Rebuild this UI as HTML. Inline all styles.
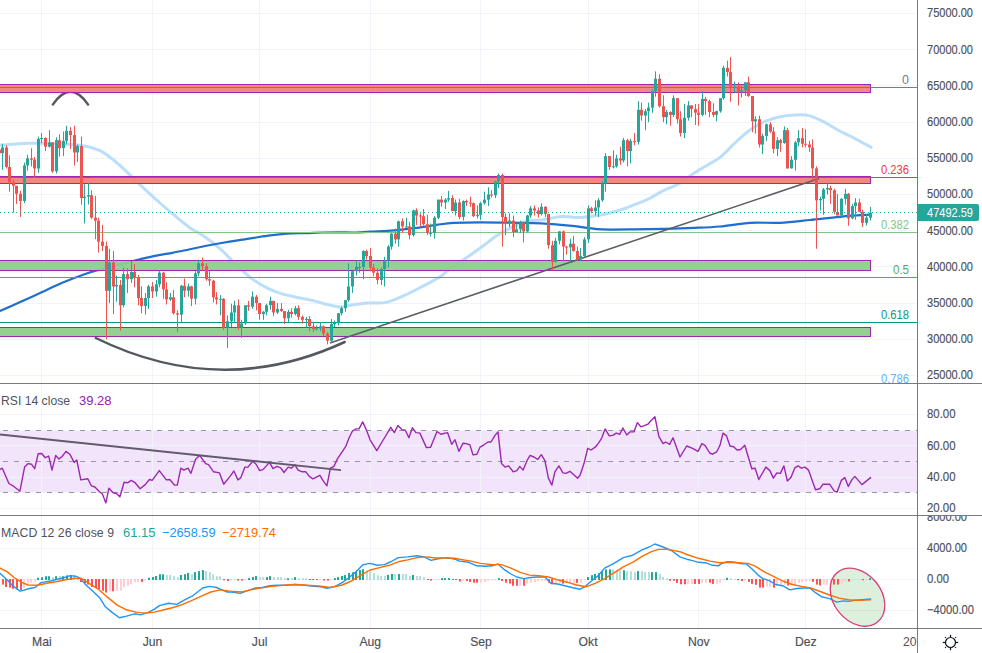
<!DOCTYPE html><html><head><meta charset="utf-8"><style>html,body{margin:0;padding:0;background:#fff;width:982px;height:653px;overflow:hidden;position:relative}</style></head><body><svg width="982" height="653" viewBox="0 0 982 653" style="position:absolute;left:0;top:0" font-family="&quot;Liberation Sans&quot;, sans-serif">
<rect width="982" height="653" fill="#ffffff"/>
<defs><clipPath id="cm"><rect x="0" y="0" width="917" height="383"/></clipPath><clipPath id="cr"><rect x="0" y="384" width="917" height="131"/></clipPath><clipPath id="cd"><rect x="0" y="516" width="917" height="112"/></clipPath><clipPath id="cda"><rect x="918" y="516" width="64" height="112"/></clipPath></defs>
<rect x="0" y="430.5" width="917" height="62" fill="#f2e5fb"/>
<rect x="41" y="0" width="1" height="628" fill="#f0f3fa"/><rect x="152" y="0" width="1" height="628" fill="#f0f3fa"/><rect x="259" y="0" width="1" height="628" fill="#f0f3fa"/><rect x="370" y="0" width="1" height="628" fill="#f0f3fa"/><rect x="480" y="0" width="1" height="628" fill="#f0f3fa"/><rect x="588" y="0" width="1" height="628" fill="#f0f3fa"/><rect x="698" y="0" width="1" height="628" fill="#f0f3fa"/><rect x="805" y="0" width="1" height="628" fill="#f0f3fa"/><rect x="0" y="13" width="917" height="1" fill="#f0f3fa"/><rect x="0" y="49" width="917" height="1" fill="#f0f3fa"/><rect x="0" y="85" width="917" height="1" fill="#f0f3fa"/><rect x="0" y="122" width="917" height="1" fill="#f0f3fa"/><rect x="0" y="158" width="917" height="1" fill="#f0f3fa"/><rect x="0" y="194" width="917" height="1" fill="#f0f3fa"/><rect x="0" y="230" width="917" height="1" fill="#f0f3fa"/><rect x="0" y="266" width="917" height="1" fill="#f0f3fa"/><rect x="0" y="303" width="917" height="1" fill="#f0f3fa"/><rect x="0" y="339" width="917" height="1" fill="#f0f3fa"/><rect x="0" y="375" width="917" height="1" fill="#f0f3fa"/><rect x="0" y="414" width="917" height="1" fill="#f0f3fa"/><rect x="0" y="445" width="917" height="1" fill="#f0f3fa"/><rect x="0" y="477" width="917" height="1" fill="#f0f3fa"/><rect x="0" y="508" width="917" height="1" fill="#f0f3fa"/><rect x="0" y="548" width="917" height="1" fill="#f0f3fa"/><rect x="0" y="579" width="917" height="1" fill="#f0f3fa"/><rect x="0" y="610" width="917" height="1" fill="#f0f3fa"/>
<g clip-path="url(#cm)">
<path d="M0.0,145.2 C4.6,144.9 18.4,143.6 27.6,143.3 C36.8,143.0 45.9,143.1 55.1,143.5 C64.3,143.9 75.0,144.4 82.7,145.7 C90.4,147.0 94.9,148.0 101.0,151.2 C107.1,154.4 113.0,159.5 119.4,165.0 C125.8,170.5 132.8,178.0 139.6,184.3 C146.4,190.6 154.1,197.7 160.0,203.0 C165.9,208.3 170.2,211.8 175.3,216.0 C180.4,220.2 185.5,224.6 190.6,228.2 C195.7,231.8 200.7,233.8 205.8,237.4 C210.9,241.0 216.0,245.0 221.1,249.6 C226.2,254.2 231.3,260.1 236.4,264.9 C241.5,269.7 246.6,274.8 251.7,278.6 C256.8,282.4 261.8,285.2 266.9,287.8 C272.0,290.4 277.1,292.3 282.2,293.9 C287.3,295.5 292.4,296.4 297.5,297.5 C302.6,298.6 307.7,299.4 312.8,300.6 C317.9,301.8 323.4,303.5 328.0,304.6 C332.6,305.7 336.7,306.9 340.3,307.0 C343.9,307.1 344.8,306.2 349.4,305.5 C354.0,304.8 361.7,303.5 367.8,303.0 C373.9,302.5 380.0,303.7 386.1,302.4 C392.2,301.1 398.3,298.1 404.4,295.4 C410.5,292.7 416.7,289.4 422.8,286.2 C428.9,283.0 436.6,279.1 441.1,276.2 C445.6,273.2 446.0,271.4 450.0,268.5 C454.0,265.6 460.2,261.9 465.3,258.5 C470.4,255.1 475.5,251.5 480.6,247.8 C485.7,244.1 491.4,239.2 495.8,236.2 C500.2,233.2 501.9,232.2 506.8,229.8 C511.7,227.4 518.9,223.3 525.0,221.6 C531.1,219.9 537.4,220.5 543.5,219.7 C549.6,218.8 555.8,216.9 561.9,216.5 C568.0,216.1 573.6,217.7 580.3,217.4 C587.0,217.1 595.7,215.8 602.0,214.7 C608.3,213.6 612.8,212.4 618.0,210.8 C623.2,209.2 628.2,207.2 633.3,205.2 C638.4,203.2 643.5,201.4 648.6,198.9 C653.7,196.4 658.8,192.9 663.9,190.3 C669.0,187.8 674.0,186.5 679.1,183.6 C684.2,180.7 690.1,175.8 694.4,173.0 C698.7,170.2 700.7,169.1 705.0,166.5 C709.3,163.9 715.0,161.3 720.0,157.4 C725.0,153.5 730.0,147.5 735.0,142.9 C740.0,138.3 745.0,133.6 750.0,130.0 C755.0,126.4 760.0,123.6 765.0,121.4 C770.0,119.2 775.0,117.8 780.0,116.7 C785.0,115.6 790.3,115.2 795.0,115.0 C799.7,114.8 803.4,114.3 808.0,115.4 C812.6,116.5 817.9,119.0 822.9,121.4 C827.9,123.8 832.9,127.3 837.9,130.0 C842.9,132.7 847.4,134.6 852.9,137.5 C858.4,140.4 868.1,145.6 871.1,147.2" fill="none" stroke="#bbdefb" stroke-width="3" stroke-linecap="round" />
<path d="M0.0,311.0 C3.5,309.5 13.9,304.9 20.8,301.8 C27.7,298.7 34.7,295.5 41.6,292.3 C48.5,289.1 55.4,285.7 62.3,282.8 C69.2,279.9 76.2,277.1 83.1,274.7 C90.0,272.3 97.0,270.3 103.9,268.4 C110.8,266.5 118.7,264.7 124.7,263.2 C130.7,261.7 134.7,260.6 140.0,259.3 C145.3,258.1 150.9,256.8 156.3,255.7 C161.7,254.6 167.2,253.8 172.6,252.8 C178.0,251.8 183.5,250.6 188.9,249.5 C194.3,248.4 199.8,247.1 205.2,246.0 C210.6,244.9 216.1,243.9 221.5,243.0 C226.9,242.1 232.4,241.2 237.8,240.3 C243.2,239.4 248.6,238.6 254.0,237.8 C259.4,237.0 264.9,236.1 270.3,235.4 C275.7,234.7 280.6,234.1 286.6,233.7 C292.6,233.3 300.3,233.3 306.3,233.1 C312.3,232.9 317.2,232.6 322.6,232.5 C328.0,232.4 333.5,232.3 338.9,232.3 C344.3,232.3 349.8,232.6 355.2,232.5 C360.6,232.4 366.1,232.0 371.5,231.7 C376.9,231.4 382.4,231.3 387.8,230.9 C393.2,230.5 398.6,229.9 404.0,229.3 C409.4,228.7 414.9,228.1 420.3,227.3 C425.7,226.6 431.1,225.5 436.6,224.8 C442.2,224.1 446.3,223.3 453.6,222.9 C460.9,222.5 471.0,222.3 480.6,222.3 C490.2,222.3 500.9,222.5 511.1,222.7 C521.3,222.9 531.5,222.8 541.7,223.3 C551.9,223.8 564.6,225.0 572.2,225.8 C579.8,226.6 582.4,227.3 587.5,227.9 C592.6,228.5 595.2,229.2 602.8,229.4 C610.4,229.7 623.1,229.5 633.3,229.4 C643.5,229.3 653.7,229.1 663.9,228.8 C674.1,228.6 685.0,228.3 694.4,227.9 C703.8,227.5 710.7,227.3 720.0,226.5 C729.3,225.7 740.0,223.4 750.0,222.8 C760.0,222.2 770.0,223.3 780.0,222.8 C790.0,222.3 800.0,221.0 810.0,220.0 C820.0,219.0 829.8,217.7 840.0,216.8 C850.2,215.9 865.9,215.0 871.1,214.7" fill="none" stroke="#1e6fd0" stroke-width="2.2" stroke-linecap="round" />
<path d="M52.8,104.6 Q70.5,79 88.1,104.6" fill="none" stroke="#55585f" stroke-width="2.4" stroke-linecap="round"/>
<rect x="0" y="85" width="870" height="7" fill="#f4807b" fill-opacity="0.95"/><rect x="0" y="84" width="871" height="1" fill="#9c27b0"/><rect x="0" y="92" width="871" height="1" fill="#9c27b0"/><rect x="870" y="84" width="1" height="9" fill="#9c27b0"/><rect x="0" y="177" width="870" height="6" fill="#f4807b" fill-opacity="0.95"/><rect x="0" y="176" width="871" height="1" fill="#9c27b0"/><rect x="0" y="183" width="871" height="1" fill="#9c27b0"/><rect x="870" y="176" width="1" height="8" fill="#9c27b0"/><rect x="0" y="261" width="870" height="9" fill="#8ccf8c" fill-opacity="0.95"/><rect x="0" y="260" width="871" height="1" fill="#9c27b0"/><rect x="0" y="270" width="871" height="1" fill="#9c27b0"/><rect x="870" y="260" width="1" height="11" fill="#9c27b0"/><rect x="0" y="328" width="870" height="8" fill="#8ccf8c" fill-opacity="0.95"/><rect x="0" y="327" width="871" height="1" fill="#9c27b0"/><rect x="0" y="336" width="871" height="1" fill="#9c27b0"/><rect x="870" y="327" width="1" height="10" fill="#9c27b0"/><rect x="0" y="87" width="917" height="1" fill="#787b86"/><rect x="0" y="177" width="917" height="1" fill="#f23645"/><rect x="0" y="232" width="917" height="1" fill="#81c784"/><rect x="0" y="277" width="917" height="1" fill="#4caf50"/><rect x="0" y="322" width="917" height="1" fill="#089981"/>
<line x1="330" y1="343" x2="819" y2="178.5" stroke="#5d5f66" stroke-width="1.6"/>
<path d="M95.8,338 Q221,399.4 344.7,342" fill="none" stroke="#55585f" stroke-width="2.5" stroke-linecap="round"/>
</g>
<g clip-path="url(#cm)">
<rect x="-1" y="139.5" width="1" height="24.6" fill="#ef5350"/><rect x="-2" y="149.6" width="3" height="3.6" fill="#ef5350"/><rect x="2" y="143.8" width="1" height="26.1" fill="#26a69a"/><rect x="1" y="147.4" width="3" height="5.8" fill="#26a69a"/><rect x="6" y="145.3" width="1" height="23.2" fill="#ef5350"/><rect x="5" y="147.4" width="3" height="19.5" fill="#ef5350"/><rect x="9" y="155.4" width="1" height="36.2" fill="#ef5350"/><rect x="8" y="167.0" width="3" height="15.2" fill="#ef5350"/><rect x="13" y="179.3" width="1" height="33.3" fill="#ef5350"/><rect x="12" y="182.2" width="3" height="3.6" fill="#ef5350"/><rect x="16" y="185.8" width="1" height="18.1" fill="#ef5350"/><rect x="15" y="185.8" width="3" height="8.0" fill="#ef5350"/><rect x="20" y="190.9" width="1" height="26.1" fill="#ef5350"/><rect x="19" y="193.8" width="3" height="7.2" fill="#ef5350"/><rect x="24" y="162.6" width="1" height="40.5" fill="#26a69a"/><rect x="23" y="165.5" width="3" height="35.5" fill="#26a69a"/><rect x="27" y="154.7" width="1" height="15.9" fill="#26a69a"/><rect x="26" y="158.3" width="3" height="7.2" fill="#26a69a"/><rect x="31" y="148.2" width="1" height="18.1" fill="#ef5350"/><rect x="30" y="158.3" width="3" height="1.4" fill="#ef5350"/><rect x="34" y="156.9" width="1" height="21.0" fill="#ef5350"/><rect x="33" y="159.7" width="3" height="8.7" fill="#ef5350"/><rect x="38" y="136.6" width="1" height="36.2" fill="#26a69a"/><rect x="37" y="138.8" width="3" height="29.7" fill="#26a69a"/><rect x="41" y="133.0" width="1" height="10.1" fill="#26a69a"/><rect x="40" y="138.0" width="3" height="1.0" fill="#26a69a"/><rect x="45" y="137.3" width="1" height="13.8" fill="#ef5350"/><rect x="44" y="138.0" width="3" height="8.7" fill="#ef5350"/><rect x="49" y="130.1" width="1" height="17.4" fill="#26a69a"/><rect x="48" y="142.4" width="3" height="4.3" fill="#26a69a"/><rect x="52" y="142.4" width="1" height="30.4" fill="#ef5350"/><rect x="51" y="142.4" width="3" height="29.0" fill="#ef5350"/><rect x="56" y="137.3" width="1" height="36.2" fill="#26a69a"/><rect x="55" y="140.2" width="3" height="31.1" fill="#26a69a"/><rect x="59" y="134.4" width="1" height="22.4" fill="#ef5350"/><rect x="58" y="140.2" width="3" height="8.0" fill="#ef5350"/><rect x="63" y="131.5" width="1" height="24.6" fill="#26a69a"/><rect x="62" y="140.9" width="3" height="7.2" fill="#26a69a"/><rect x="66" y="125.7" width="1" height="18.8" fill="#26a69a"/><rect x="65" y="130.8" width="3" height="10.1" fill="#26a69a"/><rect x="70" y="127.2" width="1" height="21.7" fill="#ef5350"/><rect x="69" y="130.8" width="3" height="4.3" fill="#ef5350"/><rect x="74" y="125.7" width="1" height="39.8" fill="#ef5350"/><rect x="73" y="135.1" width="3" height="17.4" fill="#ef5350"/><rect x="77" y="144.5" width="1" height="17.4" fill="#26a69a"/><rect x="76" y="146.0" width="3" height="6.5" fill="#26a69a"/><rect x="81" y="136.6" width="1" height="68.1" fill="#ef5350"/><rect x="80" y="146.0" width="3" height="52.1" fill="#ef5350"/><rect x="84" y="184.4" width="1" height="39.1" fill="#26a69a"/><rect x="83" y="196.7" width="3" height="1.4" fill="#26a69a"/><rect x="88" y="182.9" width="1" height="21.7" fill="#26a69a"/><rect x="87" y="195.2" width="3" height="1.4" fill="#26a69a"/><rect x="91" y="190.2" width="1" height="29.0" fill="#ef5350"/><rect x="90" y="195.2" width="3" height="22.4" fill="#ef5350"/><rect x="95" y="195.9" width="1" height="43.4" fill="#ef5350"/><rect x="94" y="217.7" width="3" height="2.9" fill="#ef5350"/><rect x="98" y="217.7" width="1" height="34.8" fill="#ef5350"/><rect x="97" y="220.6" width="3" height="21.0" fill="#ef5350"/><rect x="102" y="224.9" width="1" height="26.1" fill="#ef5350"/><rect x="101" y="241.6" width="3" height="4.3" fill="#ef5350"/><rect x="106" y="241.6" width="1" height="97.7" fill="#ef5350"/><rect x="105" y="245.9" width="3" height="44.9" fill="#ef5350"/><rect x="109" y="248.8" width="1" height="54.3" fill="#26a69a"/><rect x="108" y="262.6" width="3" height="28.2" fill="#26a69a"/><rect x="113" y="251.0" width="1" height="63.0" fill="#ef5350"/><rect x="112" y="262.6" width="3" height="23.9" fill="#ef5350"/><rect x="116" y="275.6" width="1" height="26.1" fill="#26a69a"/><rect x="115" y="285.0" width="3" height="1.4" fill="#26a69a"/><rect x="120" y="279.9" width="1" height="50.7" fill="#ef5350"/><rect x="119" y="285.0" width="3" height="20.3" fill="#ef5350"/><rect x="123" y="267.6" width="1" height="39.8" fill="#26a69a"/><rect x="122" y="274.1" width="3" height="31.1" fill="#26a69a"/><rect x="127" y="268.3" width="1" height="24.6" fill="#ef5350"/><rect x="126" y="274.1" width="3" height="5.1" fill="#ef5350"/><rect x="131" y="261.1" width="1" height="21.7" fill="#26a69a"/><rect x="130" y="272.0" width="3" height="7.2" fill="#26a69a"/><rect x="134" y="264.0" width="1" height="23.2" fill="#ef5350"/><rect x="133" y="272.0" width="3" height="5.8" fill="#ef5350"/><rect x="138" y="274.9" width="1" height="30.4" fill="#ef5350"/><rect x="137" y="277.8" width="3" height="20.3" fill="#ef5350"/><rect x="141" y="286.4" width="1" height="26.8" fill="#ef5350"/><rect x="140" y="298.0" width="3" height="8.0" fill="#ef5350"/><rect x="145" y="293.0" width="1" height="21.7" fill="#26a69a"/><rect x="144" y="298.0" width="3" height="8.0" fill="#26a69a"/><rect x="148" y="285.0" width="1" height="23.9" fill="#26a69a"/><rect x="147" y="286.4" width="3" height="11.6" fill="#26a69a"/><rect x="152" y="282.1" width="1" height="15.9" fill="#ef5350"/><rect x="151" y="286.4" width="3" height="5.1" fill="#ef5350"/><rect x="156" y="279.9" width="1" height="16.7" fill="#26a69a"/><rect x="155" y="284.3" width="3" height="7.2" fill="#26a69a"/><rect x="159" y="270.5" width="1" height="16.7" fill="#26a69a"/><rect x="158" y="272.7" width="3" height="11.6" fill="#26a69a"/><rect x="163" y="272.0" width="1" height="26.8" fill="#ef5350"/><rect x="162" y="272.7" width="3" height="16.7" fill="#ef5350"/><rect x="166" y="282.1" width="1" height="22.4" fill="#ef5350"/><rect x="165" y="289.3" width="3" height="10.1" fill="#ef5350"/><rect x="170" y="293.0" width="1" height="8.0" fill="#26a69a"/><rect x="169" y="297.3" width="3" height="2.2" fill="#26a69a"/><rect x="173" y="290.1" width="1" height="24.6" fill="#ef5350"/><rect x="172" y="297.3" width="3" height="15.9" fill="#ef5350"/><rect x="177" y="310.3" width="1" height="21.7" fill="#ef5350"/><rect x="176" y="313.2" width="3" height="1.4" fill="#ef5350"/><rect x="181" y="285.0" width="1" height="36.9" fill="#26a69a"/><rect x="180" y="285.7" width="3" height="29.0" fill="#26a69a"/><rect x="184" y="278.5" width="1" height="18.8" fill="#ef5350"/><rect x="183" y="285.7" width="3" height="5.1" fill="#ef5350"/><rect x="188" y="283.6" width="1" height="13.0" fill="#26a69a"/><rect x="187" y="286.4" width="3" height="4.3" fill="#26a69a"/><rect x="191" y="285.7" width="1" height="20.3" fill="#ef5350"/><rect x="190" y="286.4" width="3" height="12.3" fill="#ef5350"/><rect x="195" y="271.2" width="1" height="33.3" fill="#26a69a"/><rect x="194" y="273.4" width="3" height="25.3" fill="#26a69a"/><rect x="198" y="259.7" width="1" height="16.7" fill="#26a69a"/><rect x="197" y="263.3" width="3" height="10.1" fill="#26a69a"/><rect x="202" y="257.5" width="1" height="13.0" fill="#ef5350"/><rect x="201" y="263.3" width="3" height="2.9" fill="#ef5350"/><rect x="206" y="263.3" width="1" height="17.4" fill="#ef5350"/><rect x="205" y="266.2" width="3" height="13.0" fill="#ef5350"/><rect x="209" y="270.5" width="1" height="15.2" fill="#ef5350"/><rect x="208" y="279.2" width="3" height="1.4" fill="#ef5350"/><rect x="213" y="279.9" width="1" height="22.4" fill="#ef5350"/><rect x="212" y="280.7" width="3" height="16.7" fill="#ef5350"/><rect x="216" y="292.2" width="1" height="12.3" fill="#ef5350"/><rect x="215" y="297.3" width="3" height="2.2" fill="#ef5350"/><rect x="220" y="295.1" width="1" height="20.3" fill="#26a69a"/><rect x="219" y="298.8" width="3" height="1.0" fill="#26a69a"/><rect x="223" y="298.0" width="1" height="31.9" fill="#ef5350"/><rect x="222" y="298.8" width="3" height="29.0" fill="#ef5350"/><rect x="227" y="315.4" width="1" height="32.6" fill="#26a69a"/><rect x="226" y="321.2" width="3" height="6.5" fill="#26a69a"/><rect x="231" y="303.8" width="1" height="23.2" fill="#26a69a"/><rect x="230" y="312.5" width="3" height="8.7" fill="#26a69a"/><rect x="234" y="300.9" width="1" height="21.7" fill="#26a69a"/><rect x="233" y="305.3" width="3" height="7.2" fill="#26a69a"/><rect x="238" y="299.5" width="1" height="30.4" fill="#ef5350"/><rect x="237" y="305.3" width="3" height="22.4" fill="#ef5350"/><rect x="241" y="319.8" width="1" height="18.1" fill="#26a69a"/><rect x="240" y="323.4" width="3" height="4.3" fill="#26a69a"/><rect x="245" y="305.3" width="1" height="19.5" fill="#26a69a"/><rect x="244" y="305.3" width="3" height="18.1" fill="#26a69a"/><rect x="248" y="300.9" width="1" height="10.1" fill="#ef5350"/><rect x="247" y="305.3" width="3" height="1.4" fill="#ef5350"/><rect x="252" y="291.5" width="1" height="17.4" fill="#26a69a"/><rect x="251" y="296.6" width="3" height="10.1" fill="#26a69a"/><rect x="256" y="295.1" width="1" height="15.2" fill="#ef5350"/><rect x="255" y="296.6" width="3" height="6.5" fill="#ef5350"/><rect x="259" y="303.1" width="1" height="16.7" fill="#ef5350"/><rect x="258" y="303.1" width="3" height="10.9" fill="#ef5350"/><rect x="263" y="311.1" width="1" height="8.7" fill="#26a69a"/><rect x="262" y="311.8" width="3" height="2.2" fill="#26a69a"/><rect x="266" y="303.8" width="1" height="11.6" fill="#26a69a"/><rect x="265" y="305.3" width="3" height="6.5" fill="#26a69a"/><rect x="270" y="296.6" width="1" height="13.0" fill="#26a69a"/><rect x="269" y="300.9" width="3" height="4.3" fill="#26a69a"/><rect x="273" y="300.9" width="1" height="15.2" fill="#ef5350"/><rect x="272" y="300.9" width="3" height="11.6" fill="#ef5350"/><rect x="277" y="303.1" width="1" height="10.9" fill="#26a69a"/><rect x="276" y="308.9" width="3" height="3.6" fill="#26a69a"/><rect x="281" y="303.1" width="1" height="8.7" fill="#ef5350"/><rect x="280" y="308.9" width="3" height="2.2" fill="#ef5350"/><rect x="284" y="311.1" width="1" height="13.0" fill="#ef5350"/><rect x="283" y="311.1" width="3" height="7.2" fill="#ef5350"/><rect x="288" y="309.6" width="1" height="13.0" fill="#26a69a"/><rect x="287" y="311.8" width="3" height="6.5" fill="#26a69a"/><rect x="291" y="308.2" width="1" height="9.4" fill="#ef5350"/><rect x="290" y="311.8" width="3" height="2.2" fill="#ef5350"/><rect x="295" y="306.0" width="1" height="9.4" fill="#26a69a"/><rect x="294" y="308.2" width="3" height="5.8" fill="#26a69a"/><rect x="298" y="305.3" width="1" height="14.5" fill="#ef5350"/><rect x="297" y="308.2" width="3" height="8.7" fill="#ef5350"/><rect x="302" y="315.4" width="1" height="8.0" fill="#ef5350"/><rect x="301" y="316.9" width="3" height="2.9" fill="#ef5350"/><rect x="306" y="316.9" width="1" height="10.9" fill="#26a69a"/><rect x="305" y="319.0" width="3" height="1.0" fill="#26a69a"/><rect x="309" y="316.1" width="1" height="15.2" fill="#ef5350"/><rect x="308" y="319.0" width="3" height="7.2" fill="#ef5350"/><rect x="313" y="322.6" width="1" height="9.4" fill="#ef5350"/><rect x="312" y="326.3" width="3" height="2.9" fill="#ef5350"/><rect x="316" y="325.5" width="1" height="5.1" fill="#26a69a"/><rect x="315" y="328.4" width="3" height="1.0" fill="#26a69a"/><rect x="320" y="321.9" width="1" height="9.4" fill="#26a69a"/><rect x="319" y="326.3" width="3" height="2.2" fill="#26a69a"/><rect x="323" y="325.5" width="1" height="10.9" fill="#ef5350"/><rect x="322" y="326.3" width="3" height="7.2" fill="#ef5350"/><rect x="327" y="332.1" width="1" height="12.3" fill="#ef5350"/><rect x="326" y="333.5" width="3" height="7.2" fill="#ef5350"/><rect x="331" y="319.0" width="1" height="23.9" fill="#26a69a"/><rect x="330" y="324.1" width="3" height="16.7" fill="#26a69a"/><rect x="334" y="320.5" width="1" height="6.5" fill="#26a69a"/><rect x="333" y="322.6" width="3" height="1.4" fill="#26a69a"/><rect x="338" y="313.2" width="1" height="12.3" fill="#26a69a"/><rect x="337" y="313.2" width="3" height="9.4" fill="#26a69a"/><rect x="341" y="306.7" width="1" height="8.7" fill="#26a69a"/><rect x="340" y="308.2" width="3" height="5.1" fill="#26a69a"/><rect x="345" y="300.2" width="1" height="11.6" fill="#26a69a"/><rect x="344" y="300.2" width="3" height="8.0" fill="#26a69a"/><rect x="348" y="263.3" width="1" height="38.4" fill="#26a69a"/><rect x="347" y="286.4" width="3" height="13.8" fill="#26a69a"/><rect x="352" y="270.5" width="1" height="22.4" fill="#26a69a"/><rect x="351" y="271.2" width="3" height="15.2" fill="#26a69a"/><rect x="356" y="260.4" width="1" height="15.2" fill="#26a69a"/><rect x="355" y="266.9" width="3" height="4.3" fill="#26a69a"/><rect x="359" y="262.6" width="1" height="10.1" fill="#26a69a"/><rect x="358" y="266.9" width="3" height="1.0" fill="#26a69a"/><rect x="363" y="250.2" width="1" height="29.0" fill="#26a69a"/><rect x="362" y="251.0" width="3" height="15.9" fill="#26a69a"/><rect x="366" y="249.5" width="1" height="10.1" fill="#ef5350"/><rect x="365" y="251.0" width="3" height="5.1" fill="#ef5350"/><rect x="370" y="248.1" width="1" height="23.2" fill="#ef5350"/><rect x="369" y="256.0" width="3" height="11.6" fill="#ef5350"/><rect x="373" y="264.0" width="1" height="12.3" fill="#ef5350"/><rect x="372" y="267.6" width="3" height="5.1" fill="#ef5350"/><rect x="377" y="268.3" width="1" height="15.9" fill="#ef5350"/><rect x="376" y="272.7" width="3" height="7.2" fill="#ef5350"/><rect x="381" y="267.6" width="1" height="17.4" fill="#26a69a"/><rect x="380" y="269.1" width="3" height="10.9" fill="#26a69a"/><rect x="384" y="256.8" width="1" height="29.7" fill="#26a69a"/><rect x="383" y="260.4" width="3" height="8.7" fill="#26a69a"/><rect x="388" y="245.2" width="1" height="22.4" fill="#26a69a"/><rect x="387" y="246.6" width="3" height="13.8" fill="#26a69a"/><rect x="391" y="232.9" width="1" height="16.7" fill="#26a69a"/><rect x="390" y="233.6" width="3" height="13.0" fill="#26a69a"/><rect x="395" y="228.5" width="1" height="15.2" fill="#ef5350"/><rect x="394" y="233.6" width="3" height="5.8" fill="#ef5350"/><rect x="398" y="220.6" width="1" height="26.1" fill="#26a69a"/><rect x="397" y="221.3" width="3" height="18.1" fill="#26a69a"/><rect x="402" y="218.4" width="1" height="14.5" fill="#ef5350"/><rect x="401" y="221.3" width="3" height="5.1" fill="#ef5350"/><rect x="406" y="217.7" width="1" height="10.1" fill="#26a69a"/><rect x="405" y="226.4" width="3" height="1.0" fill="#26a69a"/><rect x="409" y="222.0" width="1" height="17.4" fill="#ef5350"/><rect x="408" y="226.4" width="3" height="8.7" fill="#ef5350"/><rect x="413" y="209.7" width="1" height="26.8" fill="#26a69a"/><rect x="412" y="210.4" width="3" height="24.6" fill="#26a69a"/><rect x="416" y="208.3" width="1" height="16.7" fill="#ef5350"/><rect x="415" y="210.4" width="3" height="5.1" fill="#ef5350"/><rect x="420" y="213.3" width="1" height="13.8" fill="#ef5350"/><rect x="419" y="215.5" width="3" height="1.0" fill="#ef5350"/><rect x="423" y="209.0" width="1" height="16.7" fill="#ef5350"/><rect x="422" y="216.2" width="3" height="8.0" fill="#ef5350"/><rect x="427" y="214.8" width="1" height="20.3" fill="#ef5350"/><rect x="426" y="224.2" width="3" height="8.7" fill="#ef5350"/><rect x="430" y="223.5" width="1" height="13.0" fill="#26a69a"/><rect x="429" y="232.9" width="3" height="1.0" fill="#26a69a"/><rect x="434" y="216.2" width="1" height="22.4" fill="#26a69a"/><rect x="433" y="217.7" width="3" height="15.2" fill="#26a69a"/><rect x="438" y="199.6" width="1" height="19.5" fill="#26a69a"/><rect x="437" y="199.6" width="3" height="18.1" fill="#26a69a"/><rect x="441" y="195.9" width="1" height="10.9" fill="#ef5350"/><rect x="440" y="199.6" width="3" height="2.9" fill="#ef5350"/><rect x="445" y="198.1" width="1" height="10.9" fill="#26a69a"/><rect x="444" y="199.6" width="3" height="2.9" fill="#26a69a"/><rect x="448" y="190.9" width="1" height="10.9" fill="#26a69a"/><rect x="447" y="198.1" width="3" height="1.4" fill="#26a69a"/><rect x="452" y="195.2" width="1" height="15.9" fill="#ef5350"/><rect x="451" y="198.1" width="3" height="13.0" fill="#ef5350"/><rect x="455" y="199.6" width="1" height="15.9" fill="#26a69a"/><rect x="454" y="202.5" width="3" height="8.7" fill="#26a69a"/><rect x="459" y="198.8" width="1" height="20.3" fill="#ef5350"/><rect x="458" y="202.5" width="3" height="14.5" fill="#ef5350"/><rect x="463" y="200.3" width="1" height="20.3" fill="#26a69a"/><rect x="462" y="201.0" width="3" height="15.9" fill="#26a69a"/><rect x="466" y="199.6" width="1" height="6.5" fill="#ef5350"/><rect x="465" y="201.0" width="3" height="1.4" fill="#ef5350"/><rect x="470" y="196.7" width="1" height="10.1" fill="#ef5350"/><rect x="469" y="202.5" width="3" height="1.0" fill="#ef5350"/><rect x="473" y="202.5" width="1" height="14.5" fill="#ef5350"/><rect x="472" y="203.2" width="3" height="13.0" fill="#ef5350"/><rect x="477" y="205.4" width="1" height="13.0" fill="#26a69a"/><rect x="476" y="214.8" width="3" height="1.4" fill="#26a69a"/><rect x="480" y="201.7" width="1" height="18.1" fill="#26a69a"/><rect x="479" y="203.2" width="3" height="11.6" fill="#26a69a"/><rect x="484" y="191.6" width="1" height="13.0" fill="#26a69a"/><rect x="483" y="199.6" width="3" height="3.6" fill="#26a69a"/><rect x="488" y="187.3" width="1" height="18.8" fill="#26a69a"/><rect x="487" y="194.5" width="3" height="5.1" fill="#26a69a"/><rect x="491" y="190.2" width="1" height="7.2" fill="#ef5350"/><rect x="490" y="194.5" width="3" height="1.0" fill="#ef5350"/><rect x="495" y="180.7" width="1" height="17.4" fill="#26a69a"/><rect x="494" y="181.5" width="3" height="13.8" fill="#26a69a"/><rect x="498" y="173.5" width="1" height="14.5" fill="#26a69a"/><rect x="497" y="175.0" width="3" height="6.5" fill="#26a69a"/><rect x="502" y="173.5" width="1" height="73.1" fill="#ef5350"/><rect x="501" y="175.0" width="3" height="42.0" fill="#ef5350"/><rect x="505" y="213.3" width="1" height="21.7" fill="#ef5350"/><rect x="504" y="216.9" width="3" height="5.8" fill="#ef5350"/><rect x="509" y="213.3" width="1" height="13.8" fill="#26a69a"/><rect x="508" y="220.6" width="3" height="2.2" fill="#26a69a"/><rect x="513" y="215.5" width="1" height="21.7" fill="#ef5350"/><rect x="512" y="220.6" width="3" height="11.6" fill="#ef5350"/><rect x="516" y="224.2" width="1" height="8.0" fill="#26a69a"/><rect x="515" y="229.3" width="3" height="2.9" fill="#26a69a"/><rect x="520" y="220.6" width="1" height="12.3" fill="#26a69a"/><rect x="519" y="222.7" width="3" height="6.5" fill="#26a69a"/><rect x="523" y="222.0" width="1" height="20.3" fill="#ef5350"/><rect x="522" y="222.7" width="3" height="8.7" fill="#ef5350"/><rect x="527" y="214.8" width="1" height="17.4" fill="#26a69a"/><rect x="526" y="215.5" width="3" height="15.9" fill="#26a69a"/><rect x="530" y="206.1" width="1" height="11.6" fill="#26a69a"/><rect x="529" y="208.3" width="3" height="7.2" fill="#26a69a"/><rect x="534" y="205.4" width="1" height="10.1" fill="#ef5350"/><rect x="533" y="208.3" width="3" height="2.2" fill="#ef5350"/><rect x="538" y="207.5" width="1" height="10.1" fill="#ef5350"/><rect x="537" y="210.4" width="3" height="3.6" fill="#ef5350"/><rect x="541" y="203.2" width="1" height="12.3" fill="#26a69a"/><rect x="540" y="206.8" width="3" height="7.2" fill="#26a69a"/><rect x="545" y="206.1" width="1" height="10.9" fill="#ef5350"/><rect x="544" y="206.8" width="3" height="7.2" fill="#ef5350"/><rect x="548" y="214.0" width="1" height="34.8" fill="#ef5350"/><rect x="547" y="214.0" width="3" height="31.1" fill="#ef5350"/><rect x="552" y="240.8" width="1" height="29.0" fill="#ef5350"/><rect x="551" y="245.2" width="3" height="16.7" fill="#ef5350"/><rect x="555" y="237.9" width="1" height="24.6" fill="#26a69a"/><rect x="554" y="240.8" width="3" height="21.0" fill="#26a69a"/><rect x="559" y="231.4" width="1" height="13.0" fill="#26a69a"/><rect x="558" y="231.4" width="3" height="9.4" fill="#26a69a"/><rect x="563" y="230.7" width="1" height="30.4" fill="#ef5350"/><rect x="562" y="231.4" width="3" height="15.2" fill="#ef5350"/><rect x="566" y="245.9" width="1" height="8.7" fill="#ef5350"/><rect x="565" y="246.6" width="3" height="1.0" fill="#ef5350"/><rect x="570" y="238.7" width="1" height="22.4" fill="#26a69a"/><rect x="569" y="243.7" width="3" height="3.6" fill="#26a69a"/><rect x="573" y="235.8" width="1" height="15.9" fill="#ef5350"/><rect x="572" y="243.7" width="3" height="7.2" fill="#ef5350"/><rect x="577" y="246.6" width="1" height="13.8" fill="#ef5350"/><rect x="576" y="251.0" width="3" height="8.7" fill="#ef5350"/><rect x="580" y="248.1" width="1" height="13.0" fill="#26a69a"/><rect x="579" y="256.0" width="3" height="3.6" fill="#26a69a"/><rect x="584" y="237.2" width="1" height="19.5" fill="#26a69a"/><rect x="583" y="239.4" width="3" height="16.7" fill="#26a69a"/><rect x="588" y="205.4" width="1" height="37.6" fill="#26a69a"/><rect x="587" y="208.3" width="3" height="31.1" fill="#26a69a"/><rect x="591" y="206.8" width="1" height="6.5" fill="#ef5350"/><rect x="590" y="208.3" width="3" height="2.9" fill="#ef5350"/><rect x="595" y="200.3" width="1" height="15.2" fill="#26a69a"/><rect x="594" y="207.5" width="3" height="3.6" fill="#26a69a"/><rect x="598" y="198.1" width="1" height="18.8" fill="#26a69a"/><rect x="597" y="200.3" width="3" height="7.2" fill="#26a69a"/><rect x="602" y="180.7" width="1" height="21.0" fill="#26a69a"/><rect x="601" y="183.6" width="3" height="16.7" fill="#26a69a"/><rect x="605" y="153.2" width="1" height="38.4" fill="#26a69a"/><rect x="604" y="156.1" width="3" height="27.5" fill="#26a69a"/><rect x="609" y="156.1" width="1" height="13.8" fill="#ef5350"/><rect x="608" y="156.1" width="3" height="10.9" fill="#ef5350"/><rect x="613" y="150.3" width="1" height="18.1" fill="#26a69a"/><rect x="612" y="166.3" width="3" height="1.0" fill="#26a69a"/><rect x="616" y="154.7" width="1" height="13.0" fill="#26a69a"/><rect x="615" y="158.3" width="3" height="8.0" fill="#26a69a"/><rect x="620" y="146.7" width="1" height="18.1" fill="#ef5350"/><rect x="619" y="158.3" width="3" height="2.2" fill="#ef5350"/><rect x="623" y="138.0" width="1" height="24.6" fill="#26a69a"/><rect x="622" y="140.2" width="3" height="20.3" fill="#26a69a"/><rect x="627" y="138.8" width="1" height="27.5" fill="#ef5350"/><rect x="626" y="140.2" width="3" height="10.9" fill="#ef5350"/><rect x="630" y="138.8" width="1" height="24.6" fill="#26a69a"/><rect x="629" y="140.9" width="3" height="10.1" fill="#26a69a"/><rect x="634" y="133.0" width="1" height="12.3" fill="#ef5350"/><rect x="633" y="140.9" width="3" height="1.0" fill="#ef5350"/><rect x="638" y="101.1" width="1" height="43.4" fill="#26a69a"/><rect x="637" y="109.8" width="3" height="31.9" fill="#26a69a"/><rect x="641" y="102.6" width="1" height="18.1" fill="#ef5350"/><rect x="640" y="109.8" width="3" height="5.8" fill="#ef5350"/><rect x="645" y="109.1" width="1" height="21.0" fill="#26a69a"/><rect x="644" y="111.2" width="3" height="4.3" fill="#26a69a"/><rect x="648" y="102.6" width="1" height="19.5" fill="#26a69a"/><rect x="647" y="107.6" width="3" height="3.6" fill="#26a69a"/><rect x="652" y="89.5" width="1" height="23.2" fill="#26a69a"/><rect x="651" y="91.0" width="3" height="16.7" fill="#26a69a"/><rect x="655" y="71.4" width="1" height="25.3" fill="#26a69a"/><rect x="654" y="78.7" width="3" height="12.3" fill="#26a69a"/><rect x="659" y="74.3" width="1" height="33.3" fill="#ef5350"/><rect x="658" y="78.7" width="3" height="27.5" fill="#ef5350"/><rect x="663" y="95.3" width="1" height="26.8" fill="#ef5350"/><rect x="662" y="106.2" width="3" height="10.9" fill="#ef5350"/><rect x="666" y="109.8" width="1" height="14.5" fill="#26a69a"/><rect x="665" y="112.0" width="3" height="5.1" fill="#26a69a"/><rect x="670" y="111.2" width="1" height="14.5" fill="#ef5350"/><rect x="669" y="112.0" width="3" height="2.9" fill="#ef5350"/><rect x="673" y="95.3" width="1" height="21.7" fill="#26a69a"/><rect x="672" y="98.2" width="3" height="16.7" fill="#26a69a"/><rect x="677" y="98.2" width="1" height="25.3" fill="#ef5350"/><rect x="676" y="98.2" width="3" height="21.0" fill="#ef5350"/><rect x="680" y="111.2" width="1" height="25.3" fill="#ef5350"/><rect x="679" y="119.2" width="3" height="13.8" fill="#ef5350"/><rect x="684" y="104.0" width="1" height="34.0" fill="#26a69a"/><rect x="683" y="117.8" width="3" height="15.2" fill="#26a69a"/><rect x="688" y="101.1" width="1" height="19.5" fill="#26a69a"/><rect x="687" y="105.4" width="3" height="12.3" fill="#26a69a"/><rect x="691" y="105.4" width="1" height="11.6" fill="#ef5350"/><rect x="690" y="105.4" width="3" height="3.6" fill="#ef5350"/><rect x="695" y="104.0" width="1" height="21.0" fill="#ef5350"/><rect x="694" y="109.1" width="3" height="3.6" fill="#ef5350"/><rect x="698" y="104.0" width="1" height="21.7" fill="#ef5350"/><rect x="697" y="112.7" width="3" height="2.2" fill="#ef5350"/><rect x="702" y="91.0" width="1" height="25.3" fill="#26a69a"/><rect x="701" y="98.9" width="3" height="15.9" fill="#26a69a"/><rect x="705" y="96.8" width="1" height="18.1" fill="#ef5350"/><rect x="704" y="98.9" width="3" height="2.2" fill="#ef5350"/><rect x="709" y="99.7" width="1" height="17.4" fill="#ef5350"/><rect x="708" y="101.1" width="3" height="10.9" fill="#ef5350"/><rect x="713" y="103.3" width="1" height="13.8" fill="#ef5350"/><rect x="712" y="112.0" width="3" height="2.9" fill="#ef5350"/><rect x="716" y="110.5" width="1" height="10.9" fill="#26a69a"/><rect x="715" y="111.2" width="3" height="3.6" fill="#26a69a"/><rect x="720" y="98.2" width="1" height="14.5" fill="#26a69a"/><rect x="719" y="98.2" width="3" height="13.0" fill="#26a69a"/><rect x="723" y="65.6" width="1" height="34.0" fill="#26a69a"/><rect x="722" y="67.8" width="3" height="30.4" fill="#26a69a"/><rect x="727" y="60.6" width="1" height="15.9" fill="#ef5350"/><rect x="726" y="67.8" width="3" height="4.3" fill="#ef5350"/><rect x="730" y="56.9" width="1" height="44.9" fill="#ef5350"/><rect x="729" y="72.1" width="3" height="14.5" fill="#ef5350"/><rect x="734" y="81.6" width="1" height="10.9" fill="#26a69a"/><rect x="733" y="86.6" width="3" height="1.0" fill="#26a69a"/><rect x="738" y="82.3" width="1" height="23.2" fill="#ef5350"/><rect x="737" y="86.6" width="3" height="5.1" fill="#ef5350"/><rect x="741" y="85.9" width="1" height="11.6" fill="#26a69a"/><rect x="740" y="90.2" width="3" height="1.4" fill="#26a69a"/><rect x="745" y="82.3" width="1" height="13.8" fill="#26a69a"/><rect x="744" y="82.3" width="3" height="8.0" fill="#26a69a"/><rect x="748" y="76.5" width="1" height="20.3" fill="#ef5350"/><rect x="747" y="82.3" width="3" height="13.8" fill="#ef5350"/><rect x="752" y="96.0" width="1" height="36.2" fill="#ef5350"/><rect x="751" y="96.0" width="3" height="25.3" fill="#ef5350"/><rect x="755" y="116.3" width="1" height="17.4" fill="#26a69a"/><rect x="754" y="119.2" width="3" height="2.2" fill="#26a69a"/><rect x="759" y="115.6" width="1" height="31.9" fill="#ef5350"/><rect x="758" y="119.2" width="3" height="25.3" fill="#ef5350"/><rect x="762" y="133.7" width="1" height="20.3" fill="#26a69a"/><rect x="761" y="135.9" width="3" height="8.7" fill="#26a69a"/><rect x="766" y="123.5" width="1" height="17.4" fill="#26a69a"/><rect x="765" y="124.3" width="3" height="11.6" fill="#26a69a"/><rect x="770" y="122.1" width="1" height="10.9" fill="#ef5350"/><rect x="769" y="124.3" width="3" height="7.2" fill="#ef5350"/><rect x="773" y="127.2" width="1" height="26.1" fill="#ef5350"/><rect x="772" y="131.5" width="3" height="17.4" fill="#ef5350"/><rect x="777" y="137.3" width="1" height="18.8" fill="#26a69a"/><rect x="776" y="140.2" width="3" height="8.7" fill="#26a69a"/><rect x="780" y="138.8" width="1" height="13.0" fill="#ef5350"/><rect x="779" y="140.2" width="3" height="2.9" fill="#ef5350"/><rect x="784" y="126.4" width="1" height="17.4" fill="#26a69a"/><rect x="783" y="130.1" width="3" height="13.0" fill="#26a69a"/><rect x="787" y="127.9" width="1" height="40.5" fill="#ef5350"/><rect x="786" y="130.1" width="3" height="38.4" fill="#ef5350"/><rect x="791" y="156.1" width="1" height="12.3" fill="#26a69a"/><rect x="790" y="159.7" width="3" height="8.7" fill="#26a69a"/><rect x="795" y="140.9" width="1" height="29.7" fill="#26a69a"/><rect x="794" y="142.4" width="3" height="17.4" fill="#26a69a"/><rect x="798" y="130.1" width="1" height="15.9" fill="#26a69a"/><rect x="797" y="138.0" width="3" height="4.3" fill="#26a69a"/><rect x="802" y="127.9" width="1" height="19.5" fill="#ef5350"/><rect x="801" y="138.0" width="3" height="5.8" fill="#ef5350"/><rect x="805" y="129.3" width="1" height="18.1" fill="#ef5350"/><rect x="804" y="143.8" width="3" height="1.0" fill="#ef5350"/><rect x="809" y="140.9" width="1" height="10.9" fill="#ef5350"/><rect x="808" y="144.5" width="3" height="2.9" fill="#ef5350"/><rect x="812" y="139.5" width="1" height="42.7" fill="#ef5350"/><rect x="811" y="147.4" width="3" height="21.0" fill="#ef5350"/><rect x="816" y="166.3" width="1" height="82.5" fill="#ef5350"/><rect x="815" y="168.4" width="3" height="31.9" fill="#ef5350"/><rect x="820" y="196.7" width="1" height="13.8" fill="#26a69a"/><rect x="819" y="198.8" width="3" height="1.4" fill="#26a69a"/><rect x="823" y="188.0" width="1" height="26.8" fill="#26a69a"/><rect x="822" y="189.4" width="3" height="9.4" fill="#26a69a"/><rect x="827" y="182.9" width="1" height="11.6" fill="#26a69a"/><rect x="826" y="188.0" width="3" height="1.4" fill="#26a69a"/><rect x="830" y="185.8" width="1" height="18.1" fill="#ef5350"/><rect x="829" y="188.0" width="3" height="2.2" fill="#ef5350"/><rect x="834" y="188.7" width="1" height="25.3" fill="#ef5350"/><rect x="833" y="190.2" width="3" height="21.7" fill="#ef5350"/><rect x="837" y="193.8" width="1" height="20.3" fill="#ef5350"/><rect x="836" y="211.9" width="3" height="3.6" fill="#ef5350"/><rect x="841" y="198.1" width="1" height="19.5" fill="#26a69a"/><rect x="840" y="198.8" width="3" height="16.7" fill="#26a69a"/><rect x="845" y="188.7" width="1" height="15.9" fill="#26a69a"/><rect x="844" y="193.8" width="3" height="5.1" fill="#26a69a"/><rect x="848" y="193.1" width="1" height="32.6" fill="#ef5350"/><rect x="847" y="193.8" width="3" height="24.6" fill="#ef5350"/><rect x="852" y="203.9" width="1" height="15.2" fill="#26a69a"/><rect x="851" y="206.1" width="3" height="12.3" fill="#26a69a"/><rect x="855" y="198.1" width="1" height="21.7" fill="#26a69a"/><rect x="854" y="202.5" width="3" height="3.6" fill="#26a69a"/><rect x="859" y="198.8" width="1" height="13.0" fill="#ef5350"/><rect x="858" y="202.5" width="3" height="9.4" fill="#ef5350"/><rect x="862" y="209.7" width="1" height="17.4" fill="#ef5350"/><rect x="861" y="211.9" width="3" height="10.9" fill="#ef5350"/><rect x="866" y="214.0" width="1" height="11.6" fill="#26a69a"/><rect x="865" y="217.7" width="3" height="5.1" fill="#26a69a"/><rect x="870" y="206.8" width="1" height="13.8" fill="#26a69a"/><rect x="869" y="212.7" width="3" height="5.0" fill="#26a69a"/>
</g>
<g clip-path="url(#cm)">
<line x1="0" y1="212.5" x2="917" y2="212.5" stroke="#26a69a" stroke-width="1" stroke-dasharray="1,3"/>
</g>
<text x="909" y="83.5" fill="#787b86" font-size="12.5" text-anchor="end" >0</text>
<text x="909" y="173.9" fill="#f23645" font-size="12.5" text-anchor="end" textLength="28" lengthAdjust="spacingAndGlyphs" >0.236</text>
<text x="909" y="228.5" fill="#81c784" font-size="12.5" text-anchor="end" textLength="28" lengthAdjust="spacingAndGlyphs" >0.382</text>
<text x="909" y="274" fill="#4caf50" font-size="12.5" text-anchor="end" textLength="16" lengthAdjust="spacingAndGlyphs" >0.5</text>
<text x="909" y="318.9" fill="#089981" font-size="12.5" text-anchor="end" textLength="28" lengthAdjust="spacingAndGlyphs" >0.618</text>
<text x="909" y="383.3" fill="#64b5f6" font-size="12.5" text-anchor="end" textLength="28" lengthAdjust="spacingAndGlyphs" >0.786</text>
<text x="927" y="17.4" fill="#4c4f5a" font-size="12.4" text-anchor="start" textLength="46" lengthAdjust="spacingAndGlyphs" stroke="#4c4f5a" stroke-width="0.15">75000.00</text>
<text x="927" y="53.6" fill="#4c4f5a" font-size="12.4" text-anchor="start" textLength="46" lengthAdjust="spacingAndGlyphs" stroke="#4c4f5a" stroke-width="0.15">70000.00</text>
<text x="927" y="89.80000000000001" fill="#4c4f5a" font-size="12.4" text-anchor="start" textLength="46" lengthAdjust="spacingAndGlyphs" stroke="#4c4f5a" stroke-width="0.15">65000.00</text>
<text x="927" y="126.00000000000001" fill="#4c4f5a" font-size="12.4" text-anchor="start" textLength="46" lengthAdjust="spacingAndGlyphs" stroke="#4c4f5a" stroke-width="0.15">60000.00</text>
<text x="927" y="162.20000000000002" fill="#4c4f5a" font-size="12.4" text-anchor="start" textLength="46" lengthAdjust="spacingAndGlyphs" stroke="#4c4f5a" stroke-width="0.15">55000.00</text>
<text x="927" y="198.4" fill="#4c4f5a" font-size="12.4" text-anchor="start" textLength="46" lengthAdjust="spacingAndGlyphs" stroke="#4c4f5a" stroke-width="0.15">50000.00</text>
<text x="927" y="234.60000000000002" fill="#4c4f5a" font-size="12.4" text-anchor="start" textLength="46" lengthAdjust="spacingAndGlyphs" stroke="#4c4f5a" stroke-width="0.15">45000.00</text>
<text x="927" y="270.8" fill="#4c4f5a" font-size="12.4" text-anchor="start" textLength="46" lengthAdjust="spacingAndGlyphs" stroke="#4c4f5a" stroke-width="0.15">40000.00</text>
<text x="927" y="307.0" fill="#4c4f5a" font-size="12.4" text-anchor="start" textLength="46" lengthAdjust="spacingAndGlyphs" stroke="#4c4f5a" stroke-width="0.15">35000.00</text>
<text x="927" y="343.2" fill="#4c4f5a" font-size="12.4" text-anchor="start" textLength="46" lengthAdjust="spacingAndGlyphs" stroke="#4c4f5a" stroke-width="0.15">30000.00</text>
<text x="927" y="379.4" fill="#4c4f5a" font-size="12.4" text-anchor="start" textLength="46" lengthAdjust="spacingAndGlyphs" stroke="#4c4f5a" stroke-width="0.15">25000.00</text>
<path d="M918,204 H977 Q979,204 979,206 V219 Q979,221 977,221 H918 Z" fill="#26a69a"/>
<text x="927" y="216.7" fill="#ffffff" font-size="12.4" text-anchor="start" textLength="46" lengthAdjust="spacingAndGlyphs" >47492.59</text>
<g clip-path="url(#cr)">
<line x1="0" y1="430.5" x2="917" y2="430.5" stroke="#9598a1" stroke-width="1" stroke-dasharray="5,6" stroke-dashoffset="-3"/>
<line x1="0" y1="461.5" x2="917" y2="461.5" stroke="#9598a1" stroke-width="1" stroke-dasharray="5,6" stroke-dashoffset="-3"/>
<line x1="0" y1="492.5" x2="917" y2="492.5" stroke="#9598a1" stroke-width="1" stroke-dasharray="5,6" stroke-dashoffset="-3"/>
<polyline points="0.0,469.4 2.3,468.2 8.9,483.5 12.9,485.8 19.9,491.2 24.6,467.1 28.1,463.6 31.6,464.3 34.7,468.7 38.2,453.7 41.7,453.5 45.2,457.7 48.7,456.1 52.0,470.1 55.7,455.4 59.0,458.9 62.1,456.5 66.0,451.4 69.8,454.2 74.2,462.4 76.8,460.0 80.8,479.9 87.8,478.8 91.3,485.8 94.9,487.0 99.5,491.7 102.4,494.0 105.9,502.9 108.9,488.1 113.1,492.8 116.4,493.5 119.9,496.8 124.1,482.3 127.6,482.8 131.2,480.4 134.7,482.3 140.1,488.8 145.2,484.6 149.4,479.5 152.2,480.4 159.3,470.6 166.3,479.9 169.8,479.5 174.5,485.1 177.3,485.1 180.8,468.2 183.9,470.1 188.1,468.2 190.9,473.4 195.6,459.3 199.6,455.4 205.6,463.6 208.5,464.7 213.6,471.8 219.5,472.9 223.7,484.2 230.0,476.4 233.9,471.0 237.9,479.9 240.9,477.6 244.9,467.1 248.0,467.1 252.6,461.2 255.9,464.0 259.7,470.6 263.2,469.4 269.5,462.4 273.0,468.7 277.0,466.4 280.7,467.8 284.0,472.5 288.2,467.1 291.3,468.2 294.8,464.7 298.1,470.1 302.3,471.8 305.8,471.8 309.3,476.4 312.8,478.8 319.9,475.3 323.4,481.1 326.9,485.8 330.4,468.2 333.9,466.4 337.4,458.9 342.1,451.8 345.6,446.7 349.1,437.8 352.6,430.8 356.2,428.9 359.0,428.9 362.7,421.9 366.7,430.8 370.2,440.1 376.8,450.7 383.8,439.0 390.8,427.3 394.3,432.6 397.9,425.6 401.8,429.6 405.3,430.3 408.9,437.8 412.4,427.7 415.9,432.6 419.9,433.1 426.4,447.6 430.6,447.2 437.0,431.5 440.9,434.3 447.5,432.6 451.7,444.3 455.0,439.7 458.9,451.4 462.9,443.2 466.4,443.6 469.9,444.8 473.0,454.9 476.9,454.2 480.0,447.2 484.0,444.8 487.9,442.0 491.0,442.0 495.0,435.4 498.0,431.9 501.5,463.6 505.0,467.1 508.6,465.9 513.2,471.8 516.8,470.6 519.8,466.4 523.1,470.1 527.3,460.0 530.1,455.4 533.8,457.0 537.8,459.3 541.3,454.7 544.9,460.7 548.4,478.1 551.9,485.1 554.9,471.8 558.9,465.9 562.9,472.9 565.9,473.4 569.9,471.3 577.6,478.3 580.0,475.3 584.0,463.6 587.7,448.3 591.0,450.0 595.2,447.2 598.7,442.9 601.8,437.8 605.1,428.9 609.3,435.9 612.8,435.4 616.3,433.1 619.8,434.3 622.9,428.0 626.8,435.0 629.9,431.9 633.9,431.9 637.4,422.6 640.9,426.8 644.4,425.6 647.9,424.2 651.4,420.2 654.9,416.7 658.9,436.6 663.1,443.6 665.5,442.0 669.7,444.3 673.0,437.8 680.0,457.0 686.7,446.0 692.6,448.3 698.0,451.4 701.9,443.6 705.0,445.3 709.7,453.0 712.5,454.2 716.7,451.8 720.0,445.3 723.0,433.1 726.5,435.9 730.0,446.0 733.6,446.7 737.1,450.0 740.6,449.5 744.8,445.3 751.8,468.7 755.1,468.2 758.8,479.5 765.9,467.1 769.9,470.6 773.4,478.1 776.9,472.9 780.4,473.4 783.9,465.9 787.4,481.1 790.9,477.6 794.9,467.8 798.0,465.9 801.5,468.2 805.0,467.1 808.5,470.1 815.5,489.8 819.7,488.8 823.0,484.2 829.6,484.2 834.3,491.2 837.1,492.1 841.3,480.4 844.8,477.6 848.3,486.5 851.8,479.9 854.9,476.4 861.9,484.6 870.6,477.6" fill="none" stroke="#9c27b0" stroke-width="1.4" stroke-linejoin="round" stroke-linecap="round" />
<line x1="0" y1="434.5" x2="341" y2="470.1" stroke="#625a6e" stroke-width="1.8"/>
</g>
<text x="1" y="405" fill="#50535e" font-size="13" text-anchor="start" textLength="69" lengthAdjust="spacingAndGlyphs" >RSI 14 close</text>
<text x="79" y="405" fill="#8e24aa" font-size="13" text-anchor="start" textLength="32.5" lengthAdjust="spacingAndGlyphs" >39.28</text>
<text x="927" y="418.4" fill="#4c4f5a" font-size="12.4" text-anchor="start" textLength="28.5" lengthAdjust="spacingAndGlyphs" stroke="#4c4f5a" stroke-width="0.15">80.00</text>
<text x="927" y="449.59999999999997" fill="#4c4f5a" font-size="12.4" text-anchor="start" textLength="28.5" lengthAdjust="spacingAndGlyphs" stroke="#4c4f5a" stroke-width="0.15">60.00</text>
<text x="927" y="480.8" fill="#4c4f5a" font-size="12.4" text-anchor="start" textLength="28.5" lengthAdjust="spacingAndGlyphs" stroke="#4c4f5a" stroke-width="0.15">40.00</text>
<text x="927" y="512.0" fill="#4c4f5a" font-size="12.4" text-anchor="start" textLength="28.5" lengthAdjust="spacingAndGlyphs" stroke="#4c4f5a" stroke-width="0.15">20.00</text>
<g clip-path="url(#cd)">
<ellipse cx="857.5" cy="597.2" rx="31.9" ry="23.8" transform="rotate(51.1 857.5 597.2)" fill="rgb(76,175,80)" fill-opacity="0.19"/>
<rect x="2" y="579" width="2" height="5.6" fill="#ff5252"/><rect x="5" y="579" width="2" height="8.0" fill="#ff5252"/><rect x="9" y="579" width="2" height="8.6" fill="#ff5252"/><rect x="12" y="579" width="2" height="9.8" fill="#ff5252"/><rect x="16" y="579" width="2" height="10.2" fill="#ff5252"/><rect x="20" y="579" width="2" height="11.0" fill="#ff5252"/><rect x="23" y="579" width="2" height="9.2" fill="#ffcdd2"/><rect x="27" y="579" width="2" height="4.3" fill="#ffcdd2"/><rect x="30" y="579" width="2" height="3.7" fill="#ffcdd2"/><rect x="34" y="579" width="2" height="2.5" fill="#ffcdd2"/><rect x="37" y="577.8" width="2" height="2.2" fill="#26a69a"/><rect x="41" y="577.2" width="2" height="2.8" fill="#26a69a"/><rect x="45" y="576.2" width="2" height="3.8" fill="#26a69a"/><rect x="48" y="576.2" width="2" height="3.8" fill="#26a69a"/><rect x="52" y="577.2" width="2" height="2.8" fill="#b2dfdb"/><rect x="55" y="576.2" width="2" height="3.8" fill="#26a69a"/><rect x="59" y="576.2" width="2" height="3.8" fill="#b2dfdb"/><rect x="62" y="576.2" width="2" height="3.8" fill="#26a69a"/><rect x="66" y="575.4" width="2" height="4.6" fill="#26a69a"/><rect x="70" y="575.0" width="2" height="5.0" fill="#26a69a"/><rect x="73" y="576.2" width="2" height="3.8" fill="#b2dfdb"/><rect x="77" y="578.4" width="2" height="1.6" fill="#b2dfdb"/><rect x="80" y="579" width="2" height="3.1" fill="#ff5252"/><rect x="84" y="579" width="2" height="4.3" fill="#ff5252"/><rect x="87" y="579" width="2" height="5.6" fill="#ff5252"/><rect x="91" y="579" width="2" height="8.0" fill="#ff5252"/><rect x="95" y="579" width="2" height="9.2" fill="#ff5252"/><rect x="98" y="579" width="2" height="10.4" fill="#ff5252"/><rect x="102" y="579" width="2" height="11.7" fill="#ff5252"/><rect x="105" y="579" width="2" height="13.5" fill="#ff5252"/><rect x="109" y="579" width="2" height="12.3" fill="#ffcdd2"/><rect x="112" y="579" width="2" height="12.3" fill="#ff5252"/><rect x="116" y="579" width="2" height="11.7" fill="#ffcdd2"/><rect x="120" y="579" width="2" height="11.7" fill="#ffcdd2"/><rect x="123" y="579" width="2" height="8.6" fill="#ffcdd2"/><rect x="127" y="579" width="2" height="6.8" fill="#ffcdd2"/><rect x="130" y="579" width="2" height="5.0" fill="#ffcdd2"/><rect x="134" y="579" width="2" height="2.9" fill="#ffcdd2"/><rect x="137" y="579" width="2" height="2.9" fill="#ffcdd2"/><rect x="141" y="579" width="2" height="2.9" fill="#ff5252"/><rect x="144" y="579" width="2" height="1.3" fill="#ffcdd2"/><rect x="148" y="577.8" width="2" height="2.2" fill="#26a69a"/><rect x="152" y="577.0" width="2" height="3.0" fill="#26a69a"/><rect x="155" y="576.0" width="2" height="4.0" fill="#26a69a"/><rect x="159" y="574.2" width="2" height="5.8" fill="#26a69a"/><rect x="162" y="574.2" width="2" height="5.8" fill="#26a69a"/><rect x="166" y="575.0" width="2" height="5.0" fill="#b2dfdb"/><rect x="169" y="575.0" width="2" height="5.0" fill="#b2dfdb"/><rect x="173" y="576.2" width="2" height="3.8" fill="#b2dfdb"/><rect x="177" y="577.2" width="2" height="2.8" fill="#b2dfdb"/><rect x="180" y="575.0" width="2" height="5.0" fill="#26a69a"/><rect x="184" y="574.2" width="2" height="5.8" fill="#26a69a"/><rect x="187" y="572.9" width="2" height="7.1" fill="#26a69a"/><rect x="191" y="574.2" width="2" height="5.8" fill="#b2dfdb"/><rect x="194" y="572.1" width="2" height="7.9" fill="#26a69a"/><rect x="198" y="571.1" width="2" height="8.9" fill="#26a69a"/><rect x="202" y="570.1" width="2" height="9.9" fill="#26a69a"/><rect x="205" y="571.1" width="2" height="8.9" fill="#b2dfdb"/><rect x="209" y="572.1" width="2" height="7.9" fill="#b2dfdb"/><rect x="212" y="574.2" width="2" height="5.8" fill="#b2dfdb"/><rect x="216" y="576.2" width="2" height="3.8" fill="#b2dfdb"/><rect x="219" y="576.2" width="2" height="3.8" fill="#b2dfdb"/><rect x="223" y="579" width="2" height="1.2" fill="#ff5252"/><rect x="227" y="579" width="2" height="2.0" fill="#ff5252"/><rect x="230" y="579" width="2" height="1.3" fill="#ffcdd2"/><rect x="234" y="579" width="2" height="1.2" fill="#ffcdd2"/><rect x="237" y="579" width="2" height="1.5" fill="#ff5252"/><rect x="241" y="579" width="2" height="1.5" fill="#ff5252"/><rect x="244" y="579" width="2" height="1.2" fill="#ffcdd2"/><rect x="248" y="578.1" width="2" height="1.9" fill="#26a69a"/><rect x="252" y="577.1" width="2" height="2.9" fill="#26a69a"/><rect x="255" y="576.1" width="2" height="3.9" fill="#26a69a"/><rect x="259" y="577.1" width="2" height="2.9" fill="#b2dfdb"/><rect x="262" y="577.1" width="2" height="2.9" fill="#b2dfdb"/><rect x="266" y="577.1" width="2" height="2.9" fill="#26a69a"/><rect x="269" y="576.1" width="2" height="3.9" fill="#26a69a"/><rect x="273" y="577.1" width="2" height="2.9" fill="#b2dfdb"/><rect x="277" y="577.1" width="2" height="2.9" fill="#b2dfdb"/><rect x="280" y="577.1" width="2" height="2.9" fill="#b2dfdb"/><rect x="284" y="578.1" width="2" height="1.9" fill="#b2dfdb"/><rect x="287" y="578.3" width="2" height="1.7" fill="#26a69a"/><rect x="291" y="578.1" width="2" height="1.9" fill="#b2dfdb"/><rect x="294" y="577.1" width="2" height="2.9" fill="#26a69a"/><rect x="298" y="578.3" width="2" height="1.7" fill="#b2dfdb"/><rect x="302" y="578.3" width="2" height="1.7" fill="#b2dfdb"/><rect x="305" y="578.3" width="2" height="1.7" fill="#b2dfdb"/><rect x="309" y="579" width="2" height="1.0" fill="#ff5252"/><rect x="312" y="579" width="2" height="1.0" fill="#ff5252"/><rect x="316" y="579" width="2" height="1.0" fill="#ff5252"/><rect x="319" y="579" width="2" height="1.2" fill="#ffcdd2"/><rect x="323" y="579" width="2" height="1.5" fill="#ff5252"/><rect x="327" y="579" width="2" height="1.5" fill="#ff5252"/><rect x="330" y="579" width="2" height="1.2" fill="#ffcdd2"/><rect x="334" y="578.1" width="2" height="1.9" fill="#26a69a"/><rect x="337" y="577.1" width="2" height="2.9" fill="#26a69a"/><rect x="341" y="575.9" width="2" height="4.1" fill="#26a69a"/><rect x="344" y="575.1" width="2" height="4.9" fill="#26a69a"/><rect x="348" y="573.0" width="2" height="7.0" fill="#26a69a"/><rect x="352" y="572.2" width="2" height="7.8" fill="#26a69a"/><rect x="355" y="571.6" width="2" height="8.4" fill="#26a69a"/><rect x="359" y="570.0" width="2" height="10.0" fill="#26a69a"/><rect x="362" y="569.2" width="2" height="10.8" fill="#26a69a"/><rect x="366" y="570.4" width="2" height="9.6" fill="#b2dfdb"/><rect x="369" y="571.6" width="2" height="8.4" fill="#b2dfdb"/><rect x="373" y="573.2" width="2" height="6.8" fill="#b2dfdb"/><rect x="377" y="575.3" width="2" height="4.7" fill="#b2dfdb"/><rect x="380" y="575.9" width="2" height="4.1" fill="#b2dfdb"/><rect x="384" y="575.9" width="2" height="4.1" fill="#b2dfdb"/><rect x="387" y="574.9" width="2" height="5.1" fill="#26a69a"/><rect x="391" y="574.0" width="2" height="6.0" fill="#26a69a"/><rect x="394" y="574.0" width="2" height="6.0" fill="#b2dfdb"/><rect x="398" y="574.0" width="2" height="6.0" fill="#26a69a"/><rect x="402" y="574.0" width="2" height="6.0" fill="#b2dfdb"/><rect x="405" y="574.0" width="2" height="6.0" fill="#b2dfdb"/><rect x="409" y="575.9" width="2" height="4.1" fill="#b2dfdb"/><rect x="412" y="574.9" width="2" height="5.1" fill="#26a69a"/><rect x="416" y="575.9" width="2" height="4.1" fill="#b2dfdb"/><rect x="419" y="575.9" width="2" height="4.1" fill="#b2dfdb"/><rect x="423" y="577.1" width="2" height="2.9" fill="#b2dfdb"/><rect x="427" y="579" width="2" height="1.0" fill="#ff5252"/><rect x="430" y="579" width="2" height="1.5" fill="#ff5252"/><rect x="434" y="579" width="2" height="1.2" fill="#ffcdd2"/><rect x="437" y="579" width="2" height="1.2" fill="#ffcdd2"/><rect x="441" y="578.1" width="2" height="1.9" fill="#26a69a"/><rect x="444" y="578.1" width="2" height="1.9" fill="#26a69a"/><rect x="448" y="578.1" width="2" height="1.9" fill="#26a69a"/><rect x="452" y="579" width="2" height="1.0" fill="#ff5252"/><rect x="455" y="579" width="2" height="1.0" fill="#ff5252"/><rect x="459" y="579" width="2" height="2.4" fill="#ff5252"/><rect x="462" y="579" width="2" height="1.6" fill="#ffcdd2"/><rect x="466" y="579" width="2" height="1.9" fill="#ff5252"/><rect x="469" y="579" width="2" height="2.9" fill="#ff5252"/><rect x="473" y="579" width="2" height="3.7" fill="#ff5252"/><rect x="476" y="579" width="2" height="3.7" fill="#ff5252"/><rect x="480" y="579" width="2" height="3.7" fill="#ffcdd2"/><rect x="484" y="579" width="2" height="2.9" fill="#ffcdd2"/><rect x="487" y="579" width="2" height="1.8" fill="#ffcdd2"/><rect x="491" y="579" width="2" height="1.4" fill="#ffcdd2"/><rect x="494" y="579" width="2" height="1.2" fill="#ffcdd2"/><rect x="498" y="578.2" width="2" height="1.8" fill="#26a69a"/><rect x="501" y="579" width="2" height="1.9" fill="#ff5252"/><rect x="505" y="579" width="2" height="3.7" fill="#ff5252"/><rect x="509" y="579" width="2" height="4.6" fill="#ff5252"/><rect x="512" y="579" width="2" height="6.8" fill="#ff5252"/><rect x="516" y="579" width="2" height="6.8" fill="#ff5252"/><rect x="519" y="579" width="2" height="6.8" fill="#ffcdd2"/><rect x="523" y="579" width="2" height="6.8" fill="#ff5252"/><rect x="526" y="579" width="2" height="4.6" fill="#ffcdd2"/><rect x="530" y="579" width="2" height="3.7" fill="#ffcdd2"/><rect x="534" y="579" width="2" height="2.9" fill="#ffcdd2"/><rect x="537" y="579" width="2" height="1.9" fill="#ffcdd2"/><rect x="541" y="579" width="2" height="1.6" fill="#ffcdd2"/><rect x="544" y="579" width="2" height="1.6" fill="#ffcdd2"/><rect x="548" y="579" width="2" height="3.7" fill="#ff5252"/><rect x="551" y="579" width="2" height="5.3" fill="#ff5252"/><rect x="555" y="579" width="2" height="4.6" fill="#ffcdd2"/><rect x="559" y="579" width="2" height="4.6" fill="#ffcdd2"/><rect x="562" y="579" width="2" height="4.6" fill="#ff5252"/><rect x="566" y="579" width="2" height="3.7" fill="#ffcdd2"/><rect x="569" y="579" width="2" height="3.7" fill="#ffcdd2"/><rect x="573" y="579" width="2" height="3.7" fill="#ffcdd2"/><rect x="576" y="579" width="2" height="3.9" fill="#ff5252"/><rect x="580" y="579" width="2" height="3.9" fill="#ffcdd2"/><rect x="584" y="579" width="2" height="1.2" fill="#ffcdd2"/><rect x="587" y="577.0" width="2" height="3.0" fill="#26a69a"/><rect x="591" y="575.2" width="2" height="4.8" fill="#26a69a"/><rect x="594" y="573.9" width="2" height="6.1" fill="#26a69a"/><rect x="598" y="573.1" width="2" height="6.9" fill="#26a69a"/><rect x="601" y="571.1" width="2" height="8.9" fill="#26a69a"/><rect x="605" y="569.4" width="2" height="10.6" fill="#26a69a"/><rect x="609" y="569.4" width="2" height="10.6" fill="#26a69a"/><rect x="612" y="569.4" width="2" height="10.6" fill="#b2dfdb"/><rect x="616" y="570.3" width="2" height="9.7" fill="#b2dfdb"/><rect x="619" y="570.3" width="2" height="9.7" fill="#b2dfdb"/><rect x="623" y="570.3" width="2" height="9.7" fill="#26a69a"/><rect x="626" y="571.1" width="2" height="8.9" fill="#b2dfdb"/><rect x="630" y="571.1" width="2" height="8.9" fill="#b2dfdb"/><rect x="634" y="572.1" width="2" height="7.9" fill="#b2dfdb"/><rect x="637" y="571.1" width="2" height="8.9" fill="#26a69a"/><rect x="641" y="571.1" width="2" height="8.9" fill="#b2dfdb"/><rect x="644" y="572.1" width="2" height="7.9" fill="#b2dfdb"/><rect x="648" y="572.1" width="2" height="7.9" fill="#b2dfdb"/><rect x="651" y="572.1" width="2" height="7.9" fill="#26a69a"/><rect x="655" y="572.1" width="2" height="7.9" fill="#26a69a"/><rect x="659" y="573.9" width="2" height="6.1" fill="#b2dfdb"/><rect x="662" y="577.0" width="2" height="3.0" fill="#b2dfdb"/><rect x="666" y="578.2" width="2" height="1.8" fill="#b2dfdb"/><rect x="669" y="579" width="2" height="1.7" fill="#ff5252"/><rect x="673" y="579" width="2" height="1.7" fill="#ff5252"/><rect x="676" y="579" width="2" height="3.9" fill="#ff5252"/><rect x="680" y="579" width="2" height="5.3" fill="#ff5252"/><rect x="684" y="579" width="2" height="5.3" fill="#ff5252"/><rect x="687" y="579" width="2" height="5.3" fill="#ffcdd2"/><rect x="691" y="579" width="2" height="4.9" fill="#ffcdd2"/><rect x="694" y="579" width="2" height="4.9" fill="#ff5252"/><rect x="698" y="579" width="2" height="4.9" fill="#ff5252"/><rect x="701" y="579" width="2" height="3.7" fill="#ffcdd2"/><rect x="705" y="579" width="2" height="3.7" fill="#ffcdd2"/><rect x="709" y="579" width="2" height="3.7" fill="#ff5252"/><rect x="712" y="579" width="2" height="4.9" fill="#ff5252"/><rect x="716" y="579" width="2" height="4.9" fill="#ffcdd2"/><rect x="719" y="579" width="2" height="3.7" fill="#ffcdd2"/><rect x="723" y="579" width="2" height="1.2" fill="#ffcdd2"/><rect x="726" y="577.8" width="2" height="2.2" fill="#26a69a"/><rect x="730" y="578.4" width="2" height="1.6" fill="#b2dfdb"/><rect x="734" y="579.0" width="2" height="1.0" fill="#b2dfdb"/><rect x="737" y="579" width="2" height="1.2" fill="#ff5252"/><rect x="741" y="579" width="2" height="1.9" fill="#ff5252"/><rect x="744" y="579" width="2" height="1.6" fill="#ffcdd2"/><rect x="748" y="579" width="2" height="2.9" fill="#ff5252"/><rect x="751" y="579" width="2" height="4.9" fill="#ff5252"/><rect x="755" y="579" width="2" height="5.8" fill="#ff5252"/><rect x="759" y="579" width="2" height="8.6" fill="#ff5252"/><rect x="762" y="579" width="2" height="8.6" fill="#ff5252"/><rect x="766" y="579" width="2" height="7.7" fill="#ffcdd2"/><rect x="769" y="579" width="2" height="7.7" fill="#ffcdd2"/><rect x="773" y="579" width="2" height="8.6" fill="#ff5252"/><rect x="776" y="579" width="2" height="6.8" fill="#ffcdd2"/><rect x="780" y="579" width="2" height="5.8" fill="#ffcdd2"/><rect x="784" y="579" width="2" height="5.8" fill="#ffcdd2"/><rect x="787" y="579" width="2" height="6.5" fill="#ff5252"/><rect x="791" y="579" width="2" height="5.8" fill="#ffcdd2"/><rect x="794" y="579" width="2" height="5.8" fill="#ffcdd2"/><rect x="798" y="579" width="2" height="3.7" fill="#ffcdd2"/><rect x="801" y="579" width="2" height="2.9" fill="#ffcdd2"/><rect x="805" y="579" width="2" height="2.0" fill="#ffcdd2"/><rect x="809" y="579" width="2" height="1.6" fill="#ffcdd2"/><rect x="812" y="579" width="2" height="2.9" fill="#ff5252"/><rect x="816" y="579" width="2" height="5.6" fill="#ff5252"/><rect x="819" y="579" width="2" height="6.5" fill="#ff5252"/><rect x="823" y="579" width="2" height="5.8" fill="#ffcdd2"/><rect x="826" y="579" width="2" height="5.8" fill="#ffcdd2"/><rect x="830" y="579" width="2" height="4.6" fill="#ffcdd2"/><rect x="833" y="579" width="2" height="5.6" fill="#ff5252"/><rect x="837" y="579" width="2" height="5.6" fill="#ff5252"/><rect x="841" y="579" width="2" height="4.6" fill="#ffcdd2"/><rect x="844" y="579" width="2" height="2.5" fill="#ffcdd2"/><rect x="848" y="579" width="2" height="2.5" fill="#ff5252"/><rect x="851" y="579" width="2" height="1.6" fill="#ffcdd2"/><rect x="855" y="579" width="2" height="1.2" fill="#ffcdd2"/><rect x="858" y="579" width="2" height="1.2" fill="#ffcdd2"/><rect x="862" y="579" width="2" height="1.2" fill="#ff5252"/><rect x="866" y="579" width="2" height="1.2" fill="#ffcdd2"/><rect x="869" y="578.2" width="2" height="1.8" fill="#26a69a"/>
<polyline points="0.0,573.3 7.0,579.8 12.9,585.7 19.9,591.1 23.4,590.4 29.3,588.5 35.1,587.5 41.0,582.6 50.4,581.0 57.4,579.3 64.4,577.5 70.3,575.6 76.1,576.3 79.6,577.9 86.7,585.7 93.7,592.0 99.5,597.4 105.4,606.8 112.4,612.6 119.5,617.8 126.5,616.1 134.7,613.8 140.5,614.9 147.6,612.6 154.6,609.1 159.3,605.6 168.6,603.2 176.8,604.4 185.0,599.7 192.1,596.2 202.6,588.0 209.6,586.4 216.6,587.5 221.3,589.7 227.2,592.0 230.0,592.0 232.0,592.0 240.2,593.4 248.4,590.4 255.4,588.0 262.5,587.5 269.5,585.7 276.5,585.2 285.9,585.2 295.3,584.5 304.6,585.2 314.0,586.4 321.0,586.8 326.9,588.2 335.1,586.4 342.1,582.6 349.1,577.5 356.2,571.6 363.2,564.6 370.2,563.4 377.2,565.3 384.3,564.6 391.3,561.5 398.3,557.6 407.7,556.9 417.1,555.7 424.1,556.9 431.1,560.4 438.1,558.7 447.5,557.6 455.0,559.2 459.4,561.1 468.7,562.3 476.9,565.8 485.1,566.2 492.2,565.8 498.0,563.9 503.9,569.3 510.9,574.0 516.8,577.0 523.8,578.6 530.8,577.5 537.8,577.0 544.9,577.0 550.7,583.3 557.7,584.0 564.8,585.7 571.8,587.5 580.0,589.2 584.7,586.8 590.5,581.7 597.6,576.3 604.6,568.1 614.0,563.4 623.3,557.6 632.7,555.2 642.1,549.8 649.1,547.0 654.9,544.0 663.1,547.0 671.3,550.5 680.0,556.9 686.7,559.2 692.6,560.6 698.4,562.3 705.4,562.7 712.5,565.3 718.3,565.8 721.8,563.4 727.7,561.8 734.7,562.3 741.8,563.9 746.4,563.9 752.3,569.3 758.1,575.1 762.8,578.6 768.7,580.3 775.7,584.5 782.7,585.7 789.8,589.9 796.8,588.5 803.8,588.0 809.7,588.0 815.5,592.7 821.4,596.7 829.6,598.6 836.6,602.1 843.6,600.9 848.3,601.4 855.3,600.2 862.4,599.7 870.6,599.0" fill="none" stroke="#2196f3" stroke-width="1.4" stroke-linejoin="round" stroke-linecap="round" />
<polyline points="0.0,568.1 7.0,571.6 14.1,577.5 21.1,582.2 28.1,585.0 37.5,585.2 46.8,583.3 56.2,581.7 65.6,579.8 74.9,578.2 80.8,578.2 89.0,583.3 98.4,589.2 107.7,597.4 117.1,605.1 126.5,609.8 135.8,612.1 145.2,613.1 154.6,612.1 164.0,609.8 173.3,607.5 182.7,604.4 192.1,600.4 201.4,596.2 210.8,592.0 220.2,589.9 230.0,591.1 234.4,591.5 241.4,592.0 250.8,589.9 260.1,588.0 271.8,586.4 283.6,585.2 295.3,584.5 307.0,585.2 318.7,585.9 330.4,587.5 342.1,585.0 351.5,581.0 360.8,575.1 370.2,570.0 379.6,567.6 389.0,565.3 398.3,561.8 407.7,559.9 417.1,557.6 426.4,556.9 435.8,558.0 445.2,558.0 455.0,558.3 459.4,559.2 471.1,561.1 480.4,563.4 492.2,564.6 501.5,564.6 510.9,568.1 520.3,572.3 529.6,575.1 539.0,575.8 548.4,577.0 557.7,579.8 567.1,582.2 576.5,585.0 585.8,586.8 595.2,583.3 604.6,578.6 614.0,572.8 623.3,566.9 632.7,562.3 642.1,556.4 651.4,551.7 658.5,549.4 667.8,549.4 680.0,551.7 686.7,554.5 698.4,558.3 710.1,561.1 719.5,562.7 728.9,562.3 738.2,562.7 747.6,563.4 754.6,565.8 764.0,571.6 773.4,576.3 782.7,581.0 792.1,584.5 801.5,586.4 810.8,588.0 820.2,591.5 829.6,595.0 839.0,598.1 848.3,599.7 857.7,600.4 870.6,599.7" fill="none" stroke="#ff6d00" stroke-width="1.4" stroke-linejoin="round" stroke-linecap="round" />
<ellipse cx="857.5" cy="597.2" rx="31.9" ry="23.8" transform="rotate(51.1 857.5 597.2)" fill="none" stroke="#db3f74" stroke-width="1.3"/>
</g>
<text x="1" y="537" fill="#50535e" font-size="13" text-anchor="start" textLength="113" lengthAdjust="spacingAndGlyphs" >MACD 12 26 close 9</text>
<text x="123" y="537" fill="#26a69a" font-size="13" text-anchor="start" textLength="32.5" lengthAdjust="spacingAndGlyphs" >61.15</text>
<text x="162" y="537" fill="#2196f3" font-size="13" text-anchor="start" textLength="53.5" lengthAdjust="spacingAndGlyphs" >−2658.59</text>
<text x="222" y="537" fill="#ff6d00" font-size="13" text-anchor="start" textLength="54" lengthAdjust="spacingAndGlyphs" >−2719.74</text>
<g clip-path="url(#cda)">
<text x="927" y="520.92" fill="#4c4f5a" font-size="12.4" text-anchor="start" textLength="40" lengthAdjust="spacingAndGlyphs" stroke="#4c4f5a" stroke-width="0.15">8000.00</text>
<text x="927" y="551.96" fill="#4c4f5a" font-size="12.4" text-anchor="start" textLength="40" lengthAdjust="spacingAndGlyphs" stroke="#4c4f5a" stroke-width="0.15">4000.00</text>
<text x="927" y="583.0" fill="#4c4f5a" font-size="12.4" text-anchor="start" textLength="22" lengthAdjust="spacingAndGlyphs" stroke="#4c4f5a" stroke-width="0.15">0.00</text>
<text x="927" y="614.04" fill="#4c4f5a" font-size="12.4" text-anchor="start" textLength="47" lengthAdjust="spacingAndGlyphs" stroke="#4c4f5a" stroke-width="0.15">−4000.00</text>
</g>
<rect x="917" y="0" width="1" height="653" fill="#787b86"/>
<rect x="0" y="383" width="982" height="1" fill="#787b86"/>
<rect x="0" y="515" width="982" height="1" fill="#787b86"/>
<rect x="0" y="628" width="982" height="1" fill="#787b86"/>
<text x="41.872" y="646" fill="#4c4f5a" font-size="12.2" text-anchor="middle" stroke="#4c4f5a" stroke-width="0.15">Mai</text>
<text x="152.5389" y="646" fill="#4c4f5a" font-size="12.2" text-anchor="middle" stroke="#4c4f5a" stroke-width="0.15">Jun</text>
<text x="259.6359" y="646" fill="#4c4f5a" font-size="12.2" text-anchor="middle" stroke="#4c4f5a" stroke-width="0.15">Jul</text>
<text x="370.30280000000005" y="646" fill="#4c4f5a" font-size="12.2" text-anchor="middle" stroke="#4c4f5a" stroke-width="0.15">Aug</text>
<text x="480.96970000000005" y="646" fill="#4c4f5a" font-size="12.2" text-anchor="middle" stroke="#4c4f5a" stroke-width="0.15">Sep</text>
<text x="588.0667" y="646" fill="#4c4f5a" font-size="12.2" text-anchor="middle" stroke="#4c4f5a" stroke-width="0.15">Okt</text>
<text x="698.7336" y="646" fill="#4c4f5a" font-size="12.2" text-anchor="middle" stroke="#4c4f5a" stroke-width="0.15">Nov</text>
<text x="805.8306" y="646" fill="#4c4f5a" font-size="12.2" text-anchor="middle" stroke="#4c4f5a" stroke-width="0.15">Dez</text>
<g><clipPath id="ct"><rect x="0" y="629" width="917" height="24"/></clipPath></g>
<g clip-path="url(#ct)"><text x="916.4975" y="646" fill="#50535e" font-size="12.2" text-anchor="middle" >2022</text></g>
<circle cx="950.5" cy="642.5" r="5.0" fill="none" stroke="#131722" stroke-width="1.2"/><line x1="956.00" y1="642.50" x2="958.20" y2="642.50" stroke="#131722" stroke-width="1.3"/><line x1="955.17" y1="647.17" x2="955.87" y2="647.87" stroke="#131722" stroke-width="1.3"/><line x1="950.50" y1="648.00" x2="950.50" y2="650.20" stroke="#131722" stroke-width="1.3"/><line x1="945.83" y1="647.17" x2="945.13" y2="647.87" stroke="#131722" stroke-width="1.3"/><line x1="945.00" y1="642.50" x2="942.80" y2="642.50" stroke="#131722" stroke-width="1.3"/><line x1="945.83" y1="637.83" x2="945.13" y2="637.13" stroke="#131722" stroke-width="1.3"/><line x1="950.50" y1="637.00" x2="950.50" y2="634.80" stroke="#131722" stroke-width="1.3"/><line x1="955.17" y1="637.83" x2="955.87" y2="637.13" stroke="#131722" stroke-width="1.3"/>
</svg></body></html>
